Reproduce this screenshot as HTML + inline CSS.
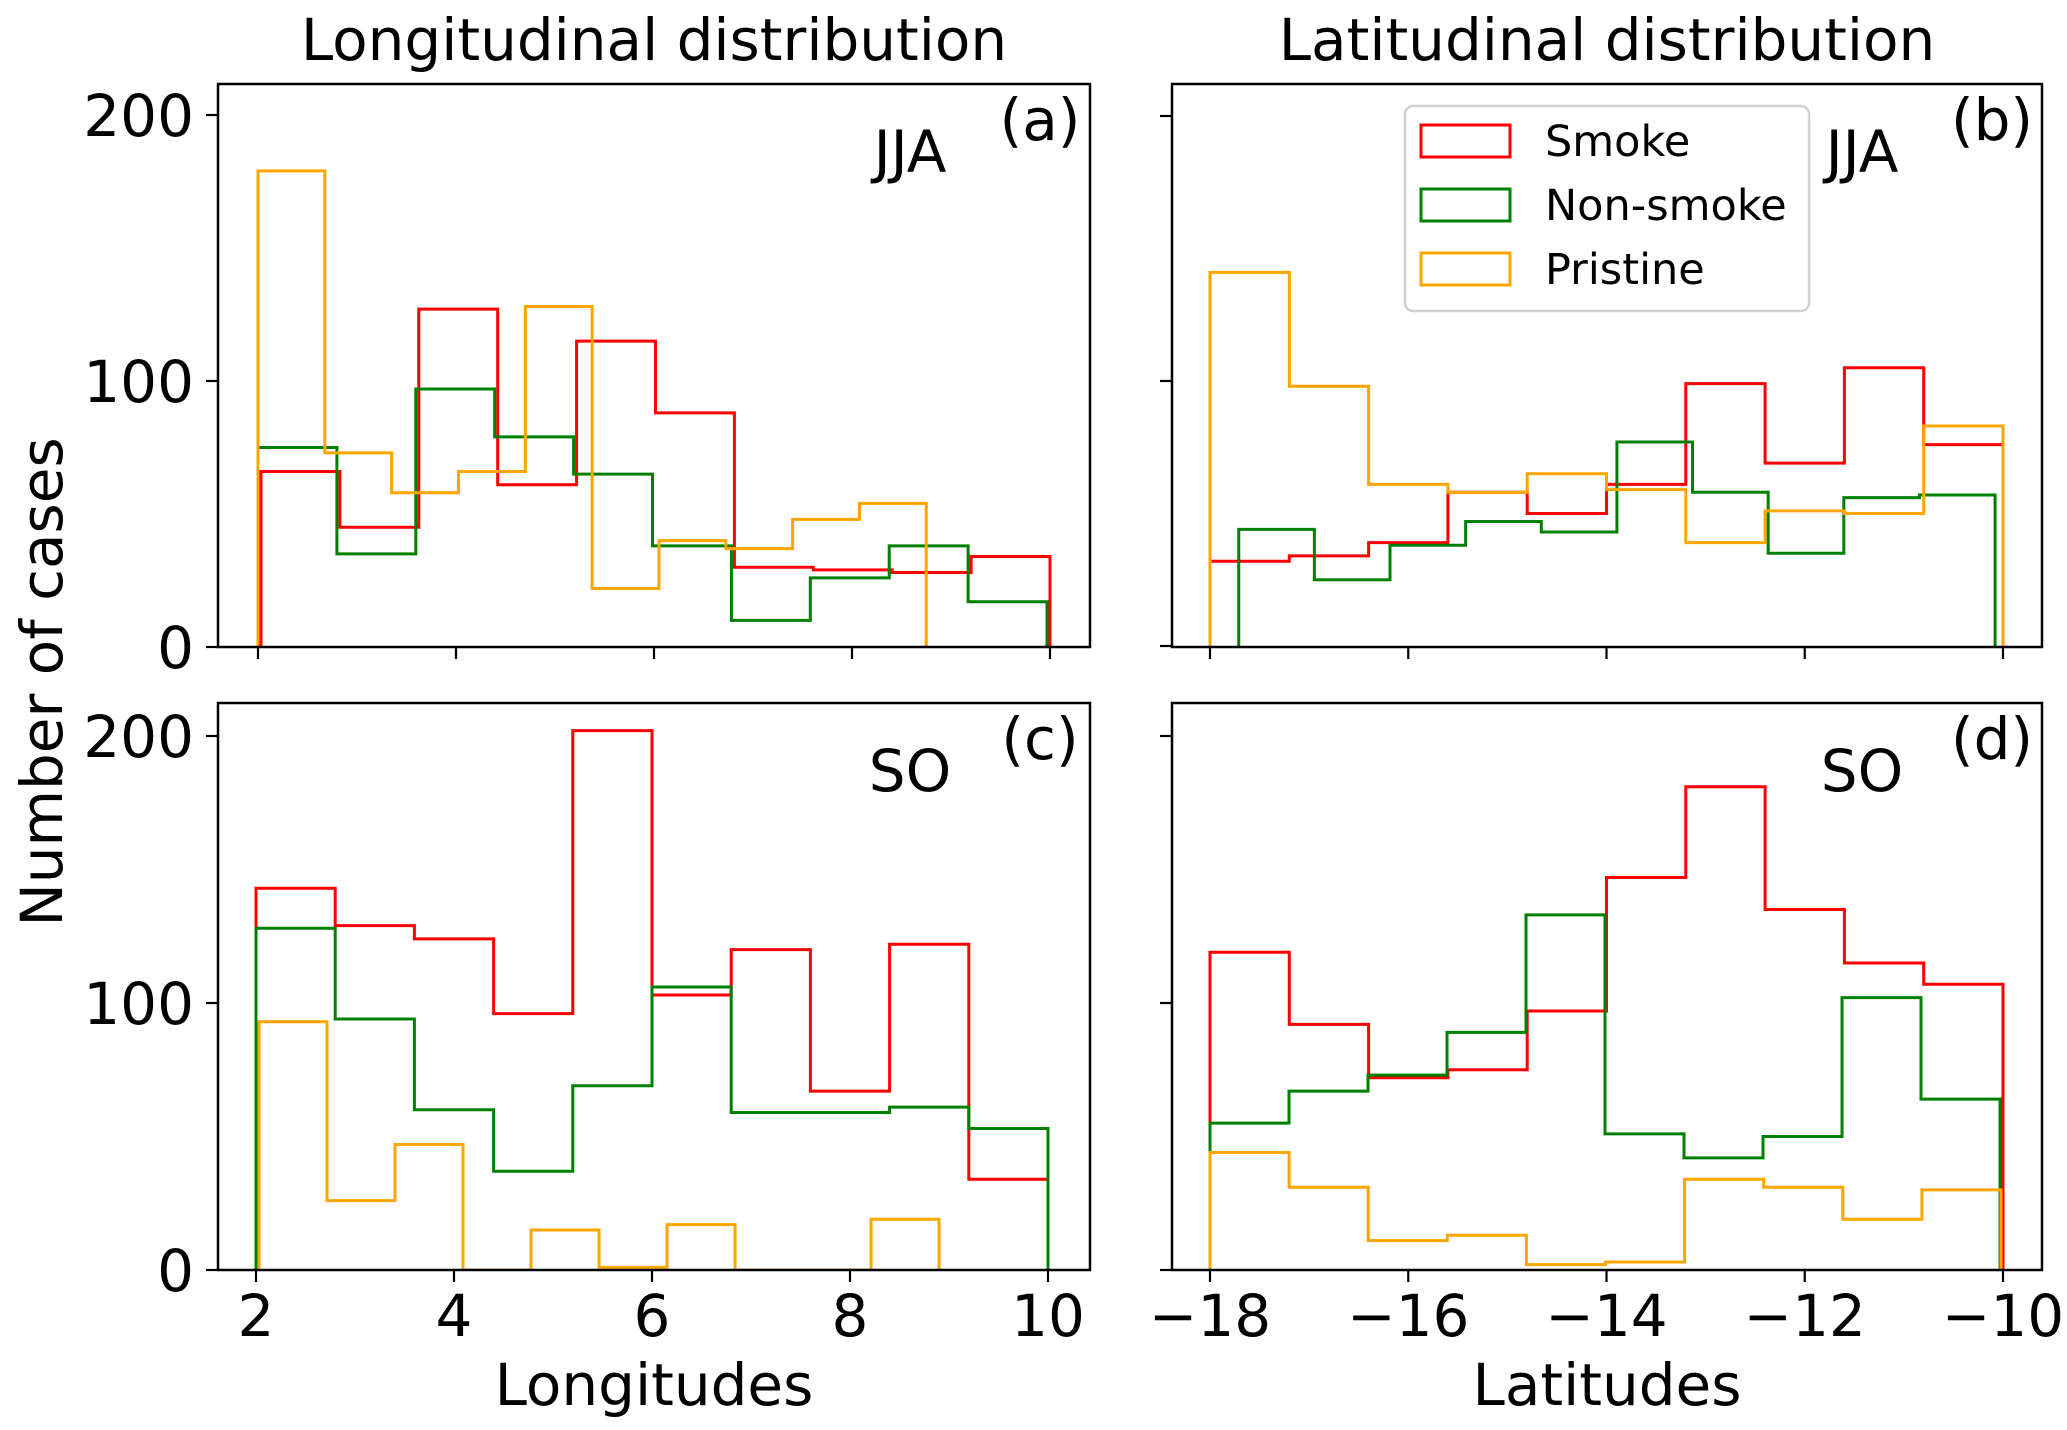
<!DOCTYPE html>
<html><head><meta charset="utf-8">
<style>
html,body{margin:0;padding:0;background:#fff;}
svg{display:block;font-family:"DejaVu Sans","Liberation Sans",sans-serif;}
</style></head>
<body>
<svg id="fig" width="2067" height="1430" viewBox="0 0 2067 1430" xmlns="http://www.w3.org/2000/svg">
<rect width="2067" height="1430" fill="#fff"/>
<text x="654" y="60" font-size="58" text-anchor="middle">Longitudinal distribution</text>
<text x="1607" y="60" font-size="58" text-anchor="middle">Latitudinal distribution</text>
<text x="0" y="0" font-size="58" text-anchor="middle" transform="translate(62,682) rotate(-90)">Number of cases</text>
<text x="654" y="1405" font-size="58" text-anchor="middle">Longitudes</text>
<text x="1607" y="1405" font-size="58" text-anchor="middle">Latitudes</text>
<g id="plots"></g>
<g>
<rect x="1405" y="106" width="404" height="205" rx="8" fill="#fff" fill-opacity="0.8" stroke="#d0d0d0" stroke-width="2.5"/>
<rect x="1421" y="125" width="89" height="32" fill="none" stroke="#ff0000" stroke-width="3"/>
<text x="1545" y="156" font-size="43">Smoke</text>
<rect x="1421" y="189" width="89" height="32" fill="none" stroke="#008000" stroke-width="3"/>
<text x="1545" y="220" font-size="43">Non-smoke</text>
<rect x="1421" y="253" width="89" height="32" fill="none" stroke="#ffa500" stroke-width="3"/>
<text x="1545" y="284" font-size="43">Pristine</text>
</g>
</svg>
<script>
// Panel (a): JJA longitudes
const aSmokeRange = [2.03, 10];
const aSmoke = [66, 45, 127, 61, 115, 88, 30, 29, 28, 34];
const aNonRange = [2.0, 9.97];
const aNon = [75, 35, 97, 79, 65, 38, 10, 26, 38, 17];
const aPriRange = [2.0, 8.75];
const aPri = [179, 73, 58, 66, 128, 22, 40, 37, 48, 54];
// Panel (b): JJA latitudes
const bSmokeRange = [-18, -10];
const bSmoke = [32, 34, 39, 58, 50, 61, 99, 69, 105, 76];
const bNonRange = [-17.71, -10.08];
const bNon = [44, 25, 38, 47, 43, 77, 58, 35, 56, 57];
const bPriRange = [-18, -10];
const bPri = [141, 98, 61, 58, 65, 59, 39, 51, 50, 83];
// Panel (c): SO longitudes
const cSmokeRange = [2.0, 10];
const cSmoke = [143, 129, 124, 96, 202, 103, 120, 67, 122, 34];
const cNonRange = [2.0, 10.0];
const cNon = [128, 94, 60, 37, 69, 106, 59, 59, 61, 53];
const cPriRange = [2.03, 8.9];
const cPri = [93, 26, 47, 0, 15, 1, 17, 0, 0, 19];
// Panel (d): SO latitudes
const dSmokeRange = [-18, -10];
const dSmoke = [119, 92, 72, 75, 97, 147, 181, 135, 115, 107];
const dNonRange = [-18, -10.03];
const dNon = [55, 67, 73, 89, 133, 51, 42, 50, 102, 64];
const dPriRange = [-18, -10.02];
const dPri = [44, 31, 11, 13, 2, 3, 34, 31, 19, 30];
// Axis ticks
const lonTicks = [2, 4, 6, 8, 10];
const latTicks = [-18, -16, -14, -12, -10];
const yTicks = [0, 100, 200];

const NS = "http://www.w3.org/2000/svg";
const root = document.getElementById('plots');
function mk(tag, attrs, parent) {
  const e = document.createElementNS(NS, tag);
  for (const k in attrs) e.setAttribute(k, attrs[k]);
  parent.appendChild(e);
  return e;
}
const colors = {smoke: '#ff0000', non: '#008000', pri: '#ffa500'};

const panels = [
  {id: 'a', box: [218, 84, 1090, 647], xd: [2, 10], xr: [258, 1050], yr: [647, 115], ticks: lonTicks, xlabels: false, ylabels: true, season: 'JJA', tag: '(a)',
   series: [['smoke', aSmokeRange, aSmoke], ['non', aNonRange, aNon], ['pri', aPriRange, aPri]]},
  {id: 'b', box: [1172, 84, 2042, 647], xd: [-18, -10], xr: [1210, 2003], yr: [646, 116], ticks: latTicks, xlabels: false, ylabels: false, season: 'JJA', tag: '(b)',
   series: [['smoke', bSmokeRange, bSmoke], ['non', bNonRange, bNon], ['pri', bPriRange, bPri]]},
  {id: 'c', box: [218, 703, 1090, 1270], xd: [2, 10], xr: [256, 1048], yr: [1270, 736], ticks: lonTicks, xlabels: true, ylabels: true, season: 'SO', tag: '(c)',
   series: [['smoke', cSmokeRange, cSmoke], ['non', cNonRange, cNon], ['pri', cPriRange, cPri]]},
  {id: 'd', box: [1172, 703, 2042, 1270], xd: [-18, -10], xr: [1210, 2003], yr: [1270, 736], ticks: latTicks, xlabels: true, ylabels: false, season: 'SO', tag: '(d)',
   series: [['smoke', dSmokeRange, dSmoke], ['non', dNonRange, dNon], ['pri', dPriRange, dPri]]}
];

panels.forEach(p => {
  const g = mk('g', {}, root);
  
  
  const sx = v => p.xr[0] + (v - p.xd[0]) / (p.xd[1] - p.xd[0]) * (p.xr[1] - p.xr[0]);
  const sy = v => p.yr[0] + v / 200 * (p.yr[1] - p.yr[0]);
  const clipId = 'clip' + p.id;
  const cp = mk('clipPath', {id: clipId}, g);
  mk('rect', {x: p.box[0], y: p.box[1], width: p.box[2] - p.box[0], height: p.box[3] - p.box[1]}, cp);
  p.series.forEach(s => {
    const [key, range, vals] = s;
    const n = vals.length;
    const w = (range[1] - range[0]) / n;
    let d = 'M' + sx(range[0]) + ' ' + sy(0);
    vals.forEach((v, i) => {
      const x0 = sx(range[0] + i * w), x1 = sx(range[0] + (i + 1) * w);
      d += ' L' + x0 + ' ' + sy(v) + ' L' + x1 + ' ' + sy(v);
    });
    d += ' L' + sx(range[1]) + ' ' + sy(0);
    const path = mk('path', {d: d, fill: 'none', stroke: colors[key], 'stroke-width': 3, 'clip-path': 'url(#' + clipId + ')'}, g);
    
    
  });
  const frame = mk('rect', {x: p.box[0], y: p.box[1], width: p.box[2] - p.box[0], height: p.box[3] - p.box[1], fill: 'none', stroke: '#000', 'stroke-width': 2.5}, g);
  
  
  p.ticks.forEach(t => {
    const x = sx(t);
    const tk = mk('line', {x1: x, x2: x, y1: p.box[3], y2: p.box[3] + 12, stroke: '#000', 'stroke-width': 2.2}, g);
    
    
    if (p.xlabels) {
      const lb = mk('text', {x: x, y: p.box[3] + 66, 'font-size': 58, 'text-anchor': 'middle'}, g);
      
      
      lb.textContent = t < 0 ? '\u2212' + Math.abs(t) : String(t);
    }
  });
  yTicks.forEach(t => {
    const y = sy(t);
    const tk = mk('line', {x1: p.box[0] - 12, x2: p.box[0], y1: y, y2: y, stroke: '#000', 'stroke-width': 2.2}, g);
    
    
    if (p.ylabels) {
      const lb = mk('text', {x: p.box[0] - 24, y: y + 21, 'font-size': 58, 'text-anchor': 'end'}, g);
      
      
      lb.textContent = String(t);
    }
  });
  const tg = mk('text', {x: p.box[2] - 50, y: p.box[1] + 56, 'font-size': 58, 'text-anchor': 'middle'}, g);
  
  
  tg.textContent = p.tag;
  const se = mk('text', {x: p.box[2] - 180, y: p.box[1] + 88, 'font-size': 58, 'text-anchor': 'middle'}, g);
  
  
  se.textContent = p.season;
});
</script>
</body></html>
